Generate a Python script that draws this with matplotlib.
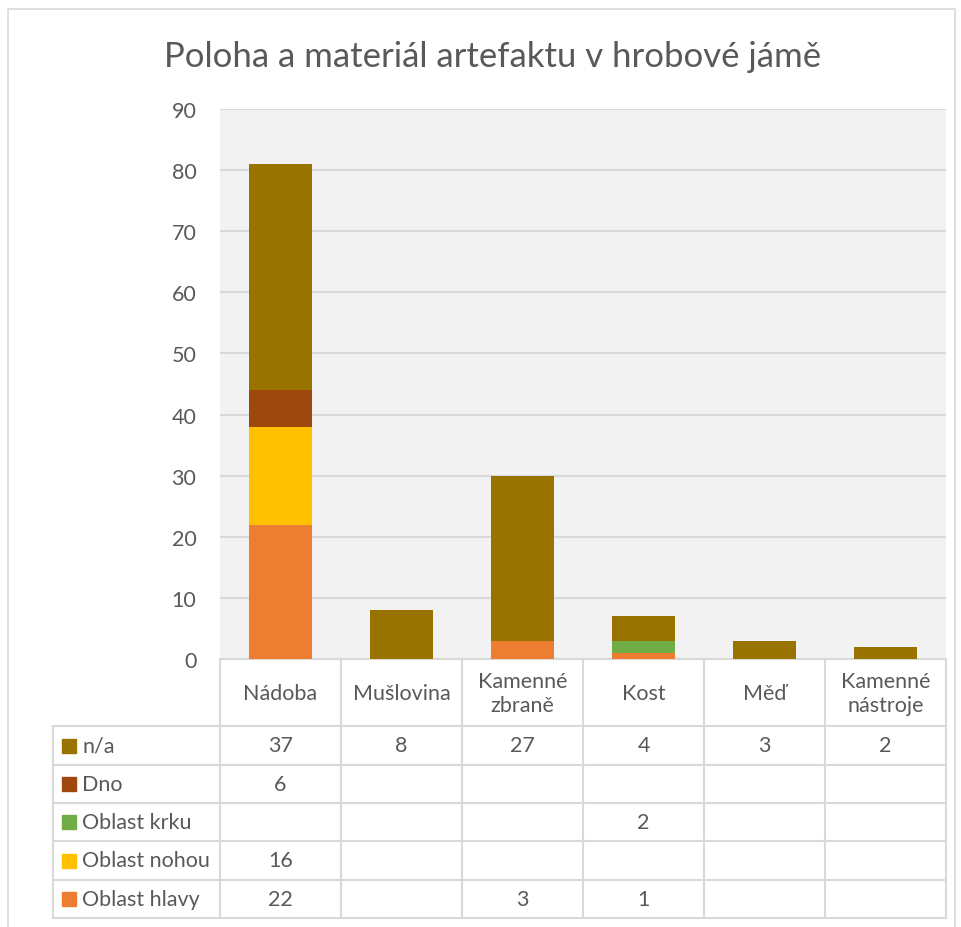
import matplotlib.pyplot as plt
import numpy as np

plt.rcParams['font.family'] = ['Lato', 'DejaVu Sans']

categories = ['Nádoba', 'Mušlovina', 'Kamenné\nzbraně', 'Kost', 'Měď', 'Kamenné\nnástroje']
series = ['Oblast hlavy', 'Oblast nohou', 'Oblast krku', 'Dno', 'n/a']
hlavy = [22, 0, 3, 1, 0, 0]
nohou = [16, 0, 0, 0, 0, 0]
krku = [0, 0, 0, 2, 0, 0]
dno = [6, 0, 0, 0, 0, 0]
na = [37, 8, 27, 4, 3, 2]
colors = ['#ED7D31', '#FFC000', '#70AD47', '#9E480E', '#997300']
title = 'Poloha a materiál artefaktu v hrobové jámě'

W, H = 961, 928
fig = plt.figure(figsize=(W / 100, H / 100), dpi=100)
txt = '#595959'
grid = '#D9D9D9'
fs = 15.5

# main plot area in pixels
x0, x1, y_top, y_bot = 220, 946, 110, 660
ax = fig.add_axes([x0 / W, 1 - y_bot / H, (x1 - x0) / W, (y_bot - y_top) / H])
ax.set_facecolor('#F2F2F2')
data = [hlavy, nohou, krku, dno, na]
xs = np.arange(len(categories))
bottom = np.zeros(len(categories))
for vals, c in zip(data, colors):
    ax.bar(xs, vals, 0.52, bottom=bottom, color=c, zorder=3)
    bottom += np.array(vals)
ax.set_xlim(-0.5, len(categories) - 0.5)
ax.set_ylim(0, 90)
ax.set_yticks(range(0, 91, 10))
ax.yaxis.grid(True, color=grid, lw=1.5, zorder=0)
ax.set_xticks([])
ax.tick_params(axis='y', length=0, labelsize=fs, labelcolor=txt, pad=17)
for s in ['top', 'right', 'left']:
    ax.spines[s].set_visible(False)
ax.spines['bottom'].set_color(grid)
ax.spines['bottom'].set_linewidth(1.5)

# overlay for title, table and border (pixel coords)
ov = fig.add_axes([0, 0, 1, 1])
ov.set_xlim(0, W)
ov.set_ylim(H, 0)
ov.axis('off')
ov.patch.set_alpha(0)
ov.plot([8, 8, 955, 955], [H, 10, 10, H], color=grid, lw=1.2)
ov.text(493, 57, title, ha='center', va='center', fontsize=25, color=txt)

colw = (x1 - x0) / len(categories)
rows_y = [727, 766, 804, 842, 881, 919]
lx = 53
for k in range(len(categories) + 1):
    ov.plot([x0 + k * colw] * 2, [662, rows_y[-1]], color=grid, lw=1.5)
ov.plot([lx, lx], [rows_y[0], rows_y[-1]], color=grid, lw=1.5)
for y in rows_y:
    ov.plot([lx, x1], [y, y], color=grid, lw=1.5)
for k, cat in enumerate(categories):
    ov.text(x0 + (k + 0.5) * colw, 694, cat, ha='center', va='center',
            fontsize=fs, color=txt, linespacing=1.2)

table_rows = list(zip(series, data, colors))[::-1]
for r, (name, vals, c) in enumerate(table_rows):
    yc = (rows_y[r] + rows_y[r + 1]) / 2
    ov.add_patch(plt.Rectangle((62, yc - 7), 14, 14, color=c))
    ov.text(82, yc, name, ha='left', va='center', fontsize=fs, color=txt)
    for k, v in enumerate(vals):
        if v:
            ov.text(x0 + (k + 0.5) * colw, yc, str(v), ha='center', va='center',
                    fontsize=fs, color=txt)

fig.savefig('out.png', dpi=100)
